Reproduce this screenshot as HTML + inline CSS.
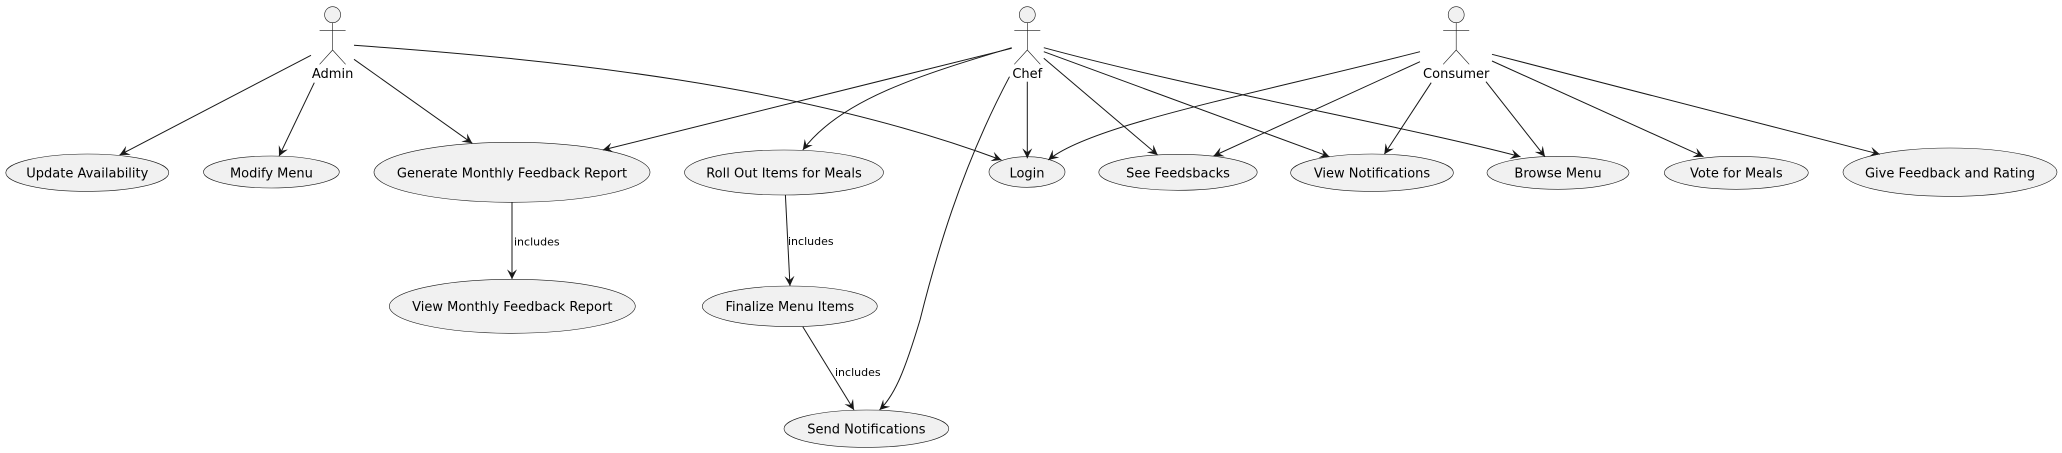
<!DOCTYPE html>
<html><head><meta charset="utf-8"><style>
html,body{margin:0;padding:0;background:#fff;}
svg{display:block;}
text{font-family:"DejaVu Sans","Liberation Sans",sans-serif;fill:#000;}
.uc{fill:#F1F1F1;stroke:#181818;stroke-width:0.6;}
.ln{fill:none;stroke:#181818;stroke-width:1;}
</style></head><body>
<svg width="2062" height="453" viewBox="0 0 2062 453" xmlns="http://www.w3.org/2000/svg">
<defs>
<marker id="a" markerWidth="12" markerHeight="10" refX="10" refY="5" orient="auto" markerUnits="userSpaceOnUse">
<path d="M0,0 L10,5 L0,10 L4,5 z" fill="#181818"/>
</marker>
</defs>

<!-- actors -->
<g stroke="#181818" stroke-width="0.6" fill="#F1F1F1">
<ellipse cx="332.6" cy="14.7" rx="8" ry="8"/>
<path d="M332.6,22.7 V50 M319.6,30.3 H345.6 M332.6,50 L319.6,64.3 M332.6,50 L345.6,64.3" fill="none"/>
<ellipse cx="1027.3" cy="14.7" rx="8" ry="8"/>
<path d="M1027.3,22.7 V50 M1014.3,30.3 H1040.3 M1027.3,50 L1014.3,64.3 M1027.3,50 L1040.3,64.3" fill="none"/>
<ellipse cx="1456.2" cy="14.7" rx="8" ry="8"/>
<path d="M1456.2,22.7 V50 M1443.2,30.3 H1469.2 M1456.2,50 L1443.2,64.3 M1456.2,50 L1469.2,64.3" fill="none"/>
</g>
<g font-size="13" text-anchor="middle">
<text x="332.6" y="78">Admin</text>
<text x="1027.3" y="78">Chef</text>
<text x="1456.2" y="78">Consumer</text>
</g>

<!-- use cases -->
<ellipse class="uc" cx="87.3" cy="172.7" rx="81.5" ry="18.7"/>
<ellipse class="uc" cx="271.4" cy="172" rx="67.9" ry="16"/>
<ellipse class="uc" cx="512" cy="172.3" rx="138" ry="30"/>
<ellipse class="uc" cx="512.3" cy="306.3" rx="123" ry="27"/>
<ellipse class="uc" cx="784" cy="172.5" rx="99.5" ry="22.5"/>
<ellipse class="uc" cx="1027" cy="172" rx="38" ry="15.3"/>
<ellipse class="uc" cx="1178" cy="172.3" rx="79.2" ry="18"/>
<ellipse class="uc" cx="1372" cy="172.7" rx="81.4" ry="18.7"/>
<ellipse class="uc" cx="789.8" cy="306.3" rx="87.5" ry="20.3"/>
<ellipse class="uc" cx="866.4" cy="428.7" rx="82.4" ry="18.7"/>
<ellipse class="uc" cx="1558" cy="172.8" rx="71" ry="16.5"/>
<ellipse class="uc" cx="1736.3" cy="172.8" rx="72" ry="16.5"/>
<ellipse class="uc" cx="1950" cy="172.2" rx="107" ry="24.2"/>

<g font-size="13" text-anchor="middle">
<text x="87.3" y="177.5">Update Availability</text>
<text x="271.4" y="177.5">Modify Menu</text>
<text x="512" y="177.5">Generate Monthly Feedback Report</text>
<text x="512.3" y="311">View Monthly Feedback Report</text>
<text x="784" y="177.5">Roll Out Items for Meals</text>
<text x="1027" y="177.5">Login</text>
<text x="1178" y="177.5">See Feedsbacks</text>
<text x="1372" y="177.5">View Notifications</text>
<text x="789.8" y="311">Finalize Menu Items</text>
<text x="866.4" y="433.5">Send Notifications</text>
<text x="1558" y="177.5">Browse Menu</text>
<text x="1736.3" y="177.5">Vote for Meals</text>
<text x="1950" y="177.5">Give Feedback and Rating</text>
</g>

<g font-size="11">
<text x="514" y="245.5">includes</text>
<text x="788" y="245">includes</text>
<text x="835" y="376">includes</text>
</g>

<!-- connectors -->
<g class="ln" marker-end="url(#a)">
<path d="M311,55.3 L119.6,155"/>
<path d="M314.3,82.7 L279,156.3"/>
<path d="M354,59.3 L472.3,143.3"/>
<path d="M354,45.3 C560,60 800,85 1001.4,160"/>
<path d="M512,202.3 V279.3"/>
<path d="M1011.7,48.3 L602.7,150"/>
<path d="M1011.7,47.7 C920,75 840,100 802.8,150"/>
<path d="M785.4,195 L790,286"/>
<path d="M802.8,326.7 L854,410"/>
<path d="M1009.5,76.7 C960,170 935,260 920,320 C905,370 895,395 879.5,410"/>
<path d="M1027.3,81.7 V158.3"/>
<path d="M1043.8,58.3 L1157.7,155"/>
<path d="M1043.8,51.7 L1329.5,156.7"/>
<path d="M1043.8,47.7 C1200,90 1400,125 1520.5,156.7"/>
<path d="M1420,51.7 C1250,95 1090,125 1048.3,160"/>
<path d="M1420,61.7 L1213.5,156"/>
<path d="M1431.2,82.7 L1384.3,154.3"/>
<path d="M1486,81.7 L1545,156.7"/>
<path d="M1492,61 L1703.5,156.7"/>
<path d="M1492,54.3 L1879.9,154.3"/>
</g>
</svg>
</body></html>
